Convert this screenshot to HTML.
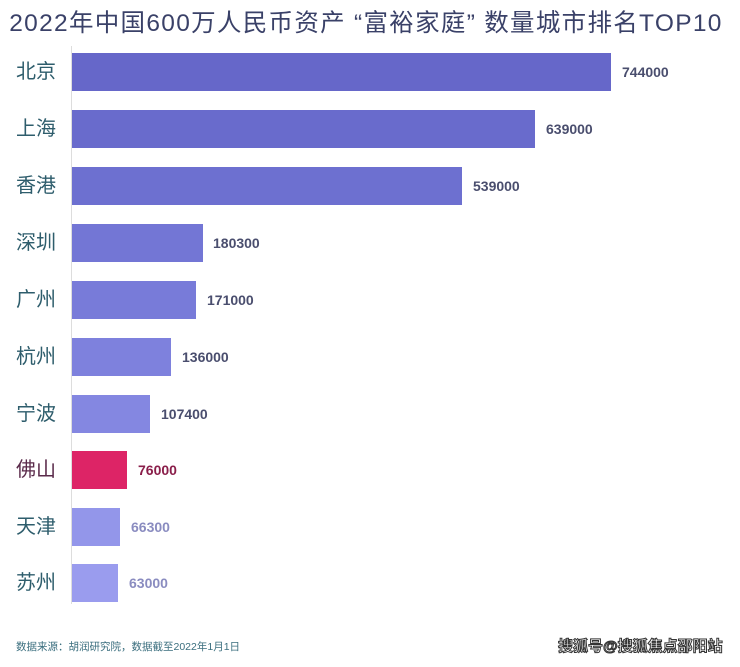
<!DOCTYPE html>
<html><head><meta charset="utf-8"><style>
body{margin:0;width:740px;height:667px;background:#fff;position:relative;overflow:hidden;font-family:"Liberation Sans","Noto Sans CJK SC",sans-serif}
.t{position:absolute;left:-4px;top:4px;width:740px;text-align:center;font-size:24.5px;color:#3a4168;white-space:nowrap;letter-spacing:1.3px}
.ax{position:absolute;left:71px;top:46px;width:1px;height:558px;background:#ddd}
.r{position:absolute;left:0;height:38px}
.c{position:absolute;left:16px;width:46px;font-size:20px;line-height:38px;color:#2e5d6c}
.b{position:absolute;left:72px;top:0;height:38px}
.v{position:absolute;top:0;line-height:38px;font-size:14px;font-weight:bold;color:#4a4e6e}
.f{position:absolute;left:16px;top:639px;font-size:10.5px;color:#3a6e7e}
.s{position:absolute;left:558px;top:635px;font-size:15px;font-weight:bold;color:#fff;-webkit-text-stroke:1px #333}
</style></head><body>
<div class="t">2022年中国600万人民币资产 “富裕家庭” 数量城市排名TOP10</div>
<div class="ax"></div>
<div class="r" style="top:53px"><div class="c">北京</div><div class="b" style="width:539px;background:#6667c9"></div><div class="v" style="left:622px">744000</div></div>
<div class="r" style="top:110px"><div class="c">上海</div><div class="b" style="width:463px;background:#696bcc"></div><div class="v" style="left:546px">639000</div></div>
<div class="r" style="top:167px"><div class="c">香港</div><div class="b" style="width:390px;background:#6d70d0"></div><div class="v" style="left:473px">539000</div></div>
<div class="r" style="top:224px"><div class="c">深圳</div><div class="b" style="width:131px;background:#7376d5"></div><div class="v" style="left:213px">180300</div></div>
<div class="r" style="top:281px"><div class="c">广州</div><div class="b" style="width:124px;background:#787bd9"></div><div class="v" style="left:207px">171000</div></div>
<div class="r" style="top:338px"><div class="c">杭州</div><div class="b" style="width:99px;background:#7e81dd"></div><div class="v" style="left:182px">136000</div></div>
<div class="r" style="top:395px"><div class="c">宁波</div><div class="b" style="width:78px;background:#8487e1"></div><div class="v" style="left:161px">107400</div></div>
<div class="r" style="top:451px"><div class="c" style="color:#5a2a4a">佛山</div><div class="b" style="width:55px;background:#dd2466"></div><div class="v" style="left:138px;color:#8a1e4a">76000</div></div>
<div class="r" style="top:508px"><div class="c">天津</div><div class="b" style="width:48px;background:#9396ea"></div><div class="v" style="left:131px;color:#8a8cc0">66300</div></div>
<div class="r" style="top:564px"><div class="c">苏州</div><div class="b" style="width:46px;background:#9a9cee"></div><div class="v" style="left:129px;color:#8a8cc0">63000</div></div>
<div class="f">数据来源：胡润研究院，数据截至2022年1月1日</div>
<div class="s">搜狐号@搜狐焦点邵阳站</div>
</body></html>
